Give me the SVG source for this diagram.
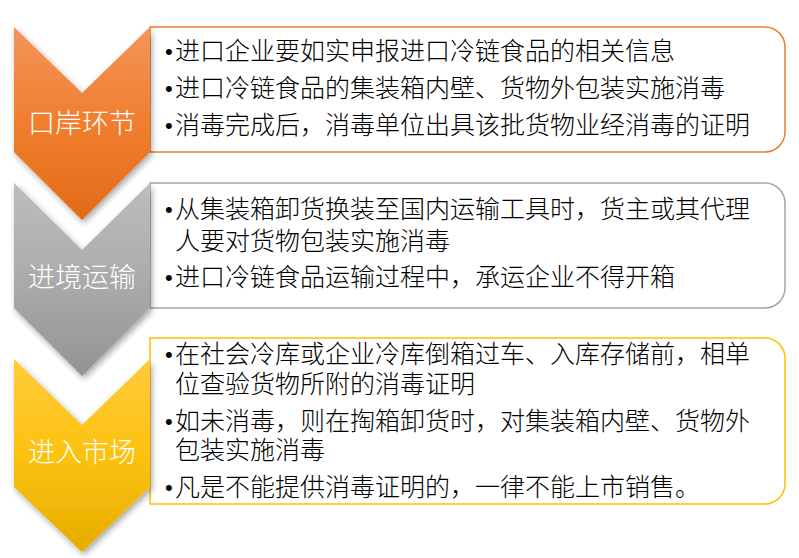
<svg xmlns="http://www.w3.org/2000/svg" width="799" height="558" viewBox="0 0 799 558">
<defs>
<linearGradient id="gOrange" x1="0" y1="0" x2="0" y2="1">
<stop offset="0" stop-color="#F2955C"/>
<stop offset="0.5" stop-color="#F07E2E"/>
<stop offset="1" stop-color="#E36A17"/>
</linearGradient>
<linearGradient id="gGray" x1="0" y1="0" x2="0" y2="1">
<stop offset="0" stop-color="#BDBDBD"/>
<stop offset="0.5" stop-color="#ABABAB"/>
<stop offset="1" stop-color="#939393"/>
</linearGradient>
<linearGradient id="gYellow" x1="0" y1="0" x2="0" y2="1">
<stop offset="0" stop-color="#FFCB3D"/>
<stop offset="0.5" stop-color="#FCC20F"/>
<stop offset="1" stop-color="#E5AC00"/>
</linearGradient>
<filter id="shadow" x="-20%" y="-20%" width="140%" height="140%">
<feDropShadow dx="2" dy="3" stdDeviation="3" flood-color="#000" flood-opacity="0.35"/>
</filter>
</defs>
<style>
.box{fill:#FFFFFF;stroke-width:1.5}
.lbl{font-family:"Noto Sans CJK SC","Noto Sans",sans-serif;font-size:27px;font-weight:300;fill:#FFFFFF;text-anchor:middle}
.txt{font-family:"Noto Sans CJK SC","Noto Sans",sans-serif;font-size:25px;font-weight:300;fill:#000000}
.bul{font-family:"Liberation Sans",sans-serif;font-size:22px}
</style>
<rect width="799" height="558" fill="#FFFFFF"/>
<g id="connectors"></g>
<g id="box1">
<path class="box" stroke="#ED7D31" d="M150,27 H765 A20,20 0 0 1 785,47 V132 A20,20 0 0 1 765,152 H150 Z"/>
<text class="txt"><tspan class="bul" x="165" y="59">•</tspan><tspan x="175" y="60">进口企业要如实申报进口冷链食品的相关信息</tspan></text>
<text class="txt"><tspan class="bul" x="165" y="96">•</tspan><tspan x="175" y="97">进口冷链食品的集装箱内壁、货物外包装实施消毒</tspan></text>
<text class="txt"><tspan class="bul" x="165" y="133">•</tspan><tspan x="175" y="134">消毒完成后，消毒单位出具该批货物业经消毒的证明</tspan></text>
</g>
<g id="box2">
<path class="box" stroke="#A5A5A5" d="M150,183 H765 A20,20 0 0 1 785,203 V288 A20,20 0 0 1 765,308 H150 Z"/>
<text class="txt"><tspan class="bul" x="165" y="217">•</tspan><tspan x="175" y="218">从集装箱卸货换装至国内运输工具时，货主或其代理</tspan></text>
<text class="txt" x="175" y="250">人要对货物包装实施消毒</text>
<text class="txt"><tspan class="bul" x="165" y="285">•</tspan><tspan x="175" y="286">进口冷链食品运输过程中，承运企业不得开箱</tspan></text>
</g>
<g id="box3">
<path class="box" stroke="#FFC000" d="M150,338 H765 A20,20 0 0 1 785,358 V484 A20,20 0 0 1 765,504 H150 Z"/>
<text class="txt"><tspan class="bul" x="165" y="362">•</tspan><tspan x="175" y="363">在社会冷库或企业冷库倒箱过车、入库存储前，相单</tspan></text>
<text class="txt" x="175" y="393">位查验货物所附的消毒证明</text>
<text class="txt"><tspan class="bul" x="165" y="429">•</tspan><tspan x="175" y="430">如未消毒，则在掏箱卸货时，对集装箱内壁、货物外</tspan></text>
<text class="txt" x="175" y="459">包装实施消毒</text>
<text class="txt"><tspan class="bul" x="165" y="495">•</tspan><tspan x="175" y="496">凡是不能提供消毒证明的，一律不能上市销售。</tspan></text>
</g>
<g id="chevron1">
<polygon points="14,27 82,93 150,27 150,152 82,220 14,152" fill="url(#gOrange)" filter="url(#shadow)"/>
<text class="lbl" x="82" y="133">口岸环节</text>
</g>
<g id="chevron2">
<polygon points="14,183 82,250 150,183 150,308 82,376 14,308" fill="url(#gGray)" filter="url(#shadow)"/>
<text class="lbl" x="82" y="287">进境运输</text>
</g>
<g id="chevron3">
<polygon points="14,359 82,425 150,359 150,487 82,552 14,487" fill="url(#gYellow)" filter="url(#shadow)"/>
<text class="lbl" x="82" y="462">进入市场</text>
</g>
</svg>
